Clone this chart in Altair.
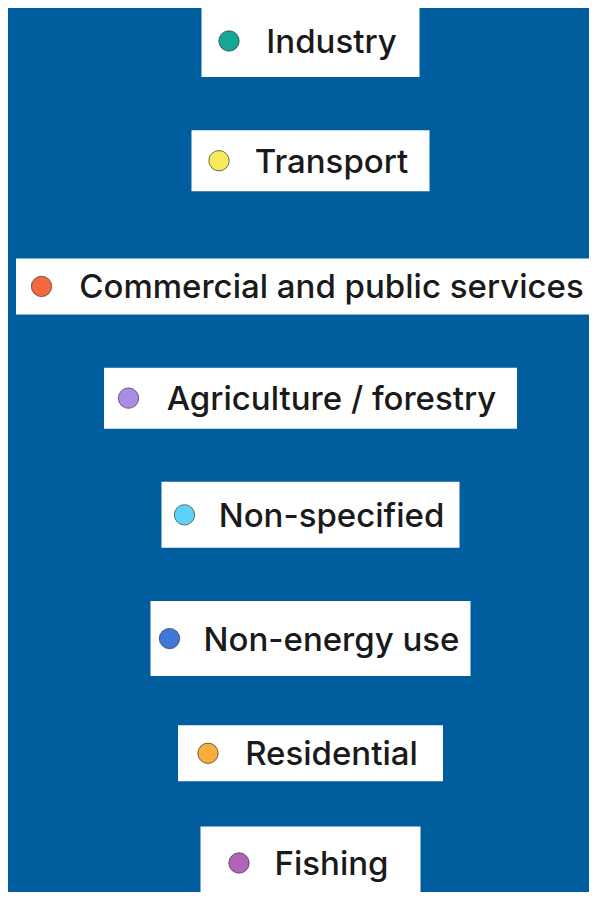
import altair as alt
import pandas as pd

# Legend entries (top to bottom) and their colours
categories = [
    "Industry",
    "Transport",
    "Commercial and public services",
    "Agriculture / forestry",
    "Non-specified",
    "Non-energy use",
    "Residential",
    "Fishing",
]
colors = [
    "#14a697",
    "#f7ea5a",
    "#f5673f",
    "#a98be8",
    "#5ed3f7",
    "#3f78d8",
    "#f7ae3b",
    "#b065ba",
]

# ---- layout / style constants (pixels) ----
W, H = 581, 884
BG = "#005e9e"
BOX_CENTER = 302.5
TEXT_CENTER = 323.5
DOT_GAP = 36.5
box_widths = [218, 238, 589, 413, 298, 320, 265, 220]
box_heights = [72, 61, 56, 61, 66, 75, 56, 73]
label_widths = [132, 152, 507, 333, 221, 251, 174, 112]
row_nudge = [-4, -2, 6, 0, -1, 5, 2, -6]

df = pd.DataFrame({
    "cat": categories,
    "x0": [BOX_CENTER - w / 2 for w in box_widths],
    "x1": [BOX_CENTER + w / 2 for w in box_widths],
    "h": box_heights,
    "dx": [TEXT_CENTER - t / 2 - DOT_GAP for t in label_widths],
    "tx": [TEXT_CENTER] * len(categories),
    "dy": row_nudge,
})

xscale = alt.Scale(domain=[0, W], range=[0, W], nice=False, zero=False)
yscale = alt.Scale(type="point", domain=categories, range=[37, 861], padding=0)
yenc = alt.Y("cat:N", scale=yscale, axis=None)
yoff = alt.YOffset("dy:Q", scale=None)

base = alt.Chart(df)

boxes = base.mark_bar(color="white").encode(
    x=alt.X("x0:Q", scale=xscale, axis=None),
    x2="x1:Q",
    y=yenc,
    yOffset=yoff,
    size=alt.Size("h:Q", scale=None, legend=None),
)

dots = base.mark_circle(size=415, opacity=1, stroke="#333333", strokeWidth=1, strokeOpacity=0.7).encode(
    x=alt.X("dx:Q", scale=xscale, axis=None),
    y=yenc,
    yOffset=yoff,
    color=alt.Color("cat:N", scale=alt.Scale(domain=categories, range=colors), legend=None),
)

labels = base.mark_text(
    font="Inter", fontSize=33, fontWeight=500, color="#1a1a1a",
    align="center", baseline="middle", dy=2,
).encode(
    x=alt.X("tx:Q", scale=xscale, axis=None),
    y=yenc,
    yOffset=yoff,
    text="cat:N",
)

chart = alt.layer(boxes, dots, labels).properties(
    width=W, height=H, background=BG, padding=0,
    autosize=alt.AutoSizeParams(type="none"),
).configure_view(stroke=None)

chart.save("out.html", embed_options={"renderer": "svg", "actions": False})
